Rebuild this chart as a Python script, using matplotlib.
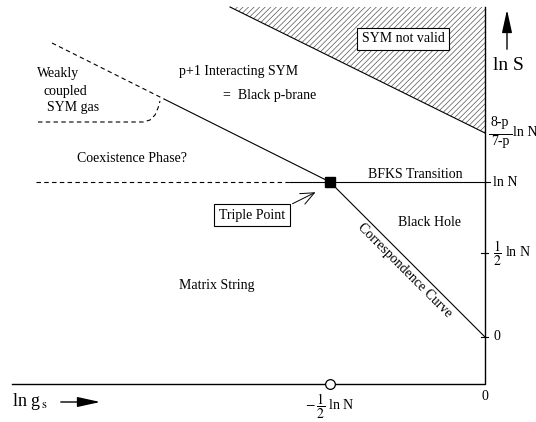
import matplotlib
matplotlib.use("Agg")
from matplotlib import pyplot as plt

plt.rcParams['font.family'] = ['Liberation Serif', 'DejaVu Serif']
plt.rcParams['mathtext.fontset'] = 'stix'
plt.rcParams['hatch.linewidth'] = 0.5

# diagram geometry, page units (x to the right, y downwards)
axis_x = [12, 485, 485]
axis_y = [384, 384, 7]

hatch_x = [230, 485, 485]
hatch_y = [7, 7, 133]

bfks_dash_x = [36, 290]
bfks_solid_x = [290, 490]
bfks_y = [182, 182]

brane_dash_x = [52, 165]
brane_dash_y = [43, 99.5]
brane_solid_x = [165, 330]
brane_solid_y = [99.5, 182]

gas_x = [38, 143, 150, 155, 158, 160]
gas_y = [122, 122, 120, 115, 108, 101]

corr_x = [330, 485]
corr_y = [182, 337]

triple_pt = (330, 182)
bottom_pt = (330, 384)

tick_y = [253, 337]
tick_labels = [r'$\dfrac{1}{2}$ ln N', '0']

fig = plt.figure(figsize=(5.36, 4.22), dpi=100)
ax = fig.add_axes([0, 0, 1, 1])
ax.set_xlim(0, 536)
ax.set_ylim(422, 0)
ax.axis('off')

# hatched region where SYM is not valid
ax.fill(hatch_x, hatch_y, facecolor='white', edgecolor='#555555', hatch='//////', linewidth=0)
ax.plot(hatch_x[:1] + hatch_x[2:], hatch_y[:1] + hatch_y[2:], color='black', lw=0.8)

# axes
ax.plot(axis_x, axis_y, color='black', lw=1.0)
for y, lab in zip(tick_y, tick_labels):
    ax.plot([481, 488], [y, y], color='black', lw=0.8)
    ax.text(493, y, lab, fontsize=10, va='center', ha='left')

# (8-p)/(7-p) ln N, written as a stacked fraction with hyphens
ax.text(500, 129, '8-p', fontsize=10, va='bottom', ha='center')
ax.text(500, 135.5, '7-p', fontsize=10, va='top', ha='center')
ax.plot([489, 512], [134, 134], color='black', lw=0.7)
ax.text(513, 133, 'ln N', fontsize=10, va='center', ha='left')
ax.text(493, 182, 'ln N', fontsize=10, va='center', ha='left')

ax.annotate('', xy=(507, 7), xytext=(507, 52),
            arrowprops=dict(arrowstyle='-|>,head_width=0.22,head_length=1.0', color='black', lw=1.0,
                            mutation_scale=14))
ax.text(508, 66, 'ln S', fontsize=14, ha='center', va='center')

ax.text(12, 401, r'ln g$_{\,\mathrm{s}}$', fontsize=13, ha='left', va='center')
ax.annotate('', xy=(103, 402), xytext=(58, 402),
            arrowprops=dict(arrowstyle='-|>,head_width=0.22,head_length=1.0', color='black', lw=1.0,
                            mutation_scale=14))
ax.text(485, 397, '0', fontsize=10, ha='center', va='center')
ax.plot(*bottom_pt, 'o', markersize=7, markerfacecolor='white', markeredgecolor='black', markeredgewidth=0.9)
ax.text(330, 406, r'$-\,\dfrac{1}{2}$ ln N', fontsize=10, ha='center', va='center')

# phase boundaries
ax.plot(bfks_dash_x, bfks_y, color='black', lw=0.8, ls=(0, (4, 3)))
ax.plot(bfks_solid_x, bfks_y, color='black', lw=0.8)
ax.plot(brane_dash_x, brane_dash_y, color='black', lw=0.8, ls=(0, (4, 3)))
ax.plot(brane_solid_x, brane_solid_y, color='black', lw=0.8)
ax.plot(gas_x, gas_y, color='black', lw=0.8, ls=(0, (4, 3)))
ax.plot(corr_x, corr_y, color='black', lw=0.8)
ax.plot(*triple_pt, 's', markersize=7.5, color='black')

# labels
ax.text(403, 39, 'SYM not valid', fontsize=10, ha='center', va='center',
        bbox=dict(boxstyle='square,pad=0.35', facecolor='white', edgecolor='black', lw=0.8))
ax.text(37, 73, 'Weakly', fontsize=10, ha='left', va='center')
ax.text(44, 91, 'coupled', fontsize=10, ha='left', va='center')
ax.text(47, 108, 'SYM gas', fontsize=10, ha='left', va='center')
ax.text(239, 71, 'p+1 Interacting SYM', fontsize=10, ha='center', va='center')
ax.text(270, 95, '=  Black p-brane', fontsize=10, ha='center', va='center')
ax.text(132, 159, 'Coexistence Phase?', fontsize=10, ha='center', va='center')
ax.text(415, 174, 'BFKS Transition', fontsize=10, ha='center', va='center')
ax.text(430, 222, 'Black Hole', fontsize=10, ha='center', va='center')
ax.text(217, 285, 'Matrix String', fontsize=10, ha='center', va='center')
ax.text(405, 270, 'Correspondence Curve', fontsize=10, ha='center', va='center', rotation=-45)
ax.text(252, 215, 'Triple Point', fontsize=10, ha='center', va='center',
        bbox=dict(boxstyle='square,pad=0.35', facecolor='white', edgecolor='black', lw=0.8))
ax.annotate('', xy=(318, 191), xytext=(290, 205),
            arrowprops=dict(arrowstyle='->,head_width=0.3,head_length=0.7', color='black', lw=0.7,
                            mutation_scale=14))

fig.savefig('out.png', dpi=100)
